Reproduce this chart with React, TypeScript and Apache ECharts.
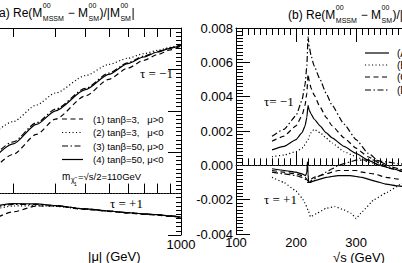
import React, { useEffect, useRef } from "react";
import * as echarts from "echarts";

// ---------- Panel (a): |mu| dependence ----------
const muValues = [150, 200, 250, 300, 400, 500, 600, 700, 800, 900, 1000];
const muTicks = [200, 300, 400, 500, 600, 700, 800, 900, 1000];
const muLabels = [1000];
// tau = -1
const a1Minus = [0.031, 0.095, 0.143, 0.18, 0.236, 0.276, 0.303, 0.322, 0.336, 0.347, 0.357];
const a2Minus = [0.122, 0.174, 0.214, 0.243, 0.285, 0.312, 0.327, 0.338, 0.346, 0.353, 0.359];
const a3Minus = [0.064, 0.125, 0.171, 0.204, 0.254, 0.291, 0.316, 0.332, 0.343, 0.352, 0.36];
const a4Minus = [0.059, 0.12, 0.167, 0.2, 0.251, 0.288, 0.314, 0.33, 0.342, 0.351, 0.359];
// tau = +1
const a1Plus = [-0.076, -0.044, -0.03, -0.03, -0.038, -0.043, -0.047, -0.05, -0.052, -0.055, -0.058];
const a2Plus = [-0.045, -0.03, -0.029, -0.031, -0.038, -0.042, -0.046, -0.049, -0.051, -0.054, -0.057];
const a3Plus = [-0.04, -0.026, -0.026, -0.029, -0.037, -0.042, -0.046, -0.049, -0.051, -0.054, -0.057];
const a4Plus = [-0.037, -0.024, -0.025, -0.029, -0.037, -0.042, -0.046, -0.049, -0.051, -0.054, -0.057];
const legendA = ["(1) tan\u03b2=3,   \u03bc>0", "(2) tan\u03b2=3,   \u03bc<0", "(3) tan\u03b2=50, \u03bc>0", "(4) tan\u03b2=50, \u03bc<0"];

// ---------- Panel (b): sqrt(s) dependence ----------
const sMinus = [160, 180, 200, 210, 215, 218, 220, 222, 225, 230, 240, 250, 260, 280, 300, 320, 340, 360, 380];
const bMinusA = [0.0009, 0.0011, 0.0015, 0.0019, 0.0023, 0.0028, 0.0035, 0.0032, 0.003, 0.0027, 0.0023, 0.0019, 0.0016, 0.0011, 0.0007, 0.0003, 0.0, -0.0002, -0.0004];
const bMinusB = [0.0005, 0.0006, 0.0008, 0.001, 0.0012, 0.0014, 0.0015, 0.0017, 0.0019, 0.0021, 0.0019, 0.0016, 0.0013, 0.0008, 0.0005, 0.0002, 0.0, -0.0002, -0.0003];
const bMinusC = [0.0014, 0.0017, 0.0023, 0.0029, 0.0035, 0.0042, 0.0053, 0.0049, 0.0045, 0.0041, 0.0034, 0.0028, 0.0023, 0.0016, 0.001, 0.0005, 0.0001, -0.0002, -0.0004];
const bMinusD = [0.0017, 0.0021, 0.0029, 0.0038, 0.0047, 0.0058, 0.0075, 0.0069, 0.0064, 0.0058, 0.005, 0.0042, 0.0035, 0.0024, 0.0015, 0.0007, 0.0002, -0.0001, -0.0003];
const sPlusA = [160, 180, 200, 210, 216, 218, 219, 220, 221, 223, 230, 250, 270, 290, 310, 330, 350, 370, 390];
const bPlusA = [-0.0002, -0.0003, -0.0004, -0.0005, -0.0006, -0.0004, 0.0002, -0.0005, -0.001, -0.001, -0.0009, -0.0007, -0.0006, -0.0006, -0.0007, -0.0009, -0.0011, -0.0012, -0.0013];
const sPlusB = [160, 180, 200, 210, 215, 220, 224, 235, 250, 265, 280, 292, 300, 310, 330, 350, 375, 390];
const bPlusB = [-0.0007, -0.001, -0.0015, -0.0019, -0.0022, -0.0026, -0.003, -0.0028, -0.0025, -0.0024, -0.0026, -0.0028, -0.0031, -0.0027, -0.002, -0.0016, -0.0011, -0.0008];
const sPlusCD = [160, 180, 200, 210, 215, 220, 222, 225, 230, 240, 250, 260, 270, 280, 290, 300, 310, 330, 350, 370, 390];
const bPlusC = [-0.0003, -0.0004, -0.0005, -0.0006, -0.0007, -0.0009, -0.0009, -0.0008, -0.0007, -0.0006, -0.0005, -0.0004, -0.0003, -0.0003, -0.0003, -0.0003, -0.0004, -0.0005, -0.0007, -0.0008, -0.0009];
const bPlusD = [-0.0004, -0.0005, -0.0006, -0.0007, -0.0008, -0.001, -0.001, -0.0009, -0.0008, -0.0006, -0.0004, -0.0002, 0.0, 0.0001, 0.0002, 0.0003, 0.0003, 0.0003, 0.0002, 0.0001, 0.0];
const legendB = ["(A)", "(B)", "(C)", "(D)"];

const SANS = '"Liberation Sans", Arial, Helvetica, sans-serif';
const SERIF = '"Liberation Serif", "Times New Roman", serif';
const DASH = [5, 3.5];
const DOT = [1.1, 2.4];
const DASHDOT = [6, 2.5, 1.5, 2.5];
const legendStyles: any[] = [DASH, DOT, DASHDOT, "solid"];
const legendStylesB: any[] = ["solid", DOT, DASH, DASHDOT];

// the canvas is wider than the page: both panels are cut at the page edges
const OFF = 70;
const CANVAS_W = 560;

let ctx: CanvasRenderingContext2D | null = null;
function measure(text: string, size: number, family: string) {
  if (!ctx) ctx = document.createElement("canvas").getContext("2d");
  ctx!.font = `${size}px ${family}`;
  return ctx!.measureText(text).width;
}

type Seg = { t: string } | { sup: string; sub: string };
function mathText(segs: Seg[], x: number, y: number, size: number, small: number, family: string) {
  const els: any[] = [];
  let cx = x;
  for (const s of segs) {
    if ("t" in s) {
      els.push({ type: "text", x: cx, y, style: { text: s.t, fontSize: size, fontFamily: family, fill: "#000", align: "left", verticalAlign: "middle" } });
      cx += measure(s.t, size, family);
    } else {
      els.push({ type: "text", x: cx + 0.5, y: y - size * 0.6, style: { text: s.sup, fontSize: small, fontFamily: family, fill: "#000", align: "left", verticalAlign: "middle" } });
      els.push({ type: "text", x: cx + 0.5, y: y + size * 0.42, style: { text: s.sub, fontSize: small, fontFamily: family, fill: "#000", align: "left", verticalAlign: "middle" } });
      cx += Math.max(measure(s.sup, small, family), measure(s.sub, small, family)) + 1;
    }
  }
  return els;
}

function titleSegs(letter: string): Seg[] {
  return [
    { t: `(${letter}) Re(M` },
    { sup: "00", sub: "MSSM" },
    { t: " \u2212 M" },
    { sup: "00", sub: "SM" },
    { t: ")/|M" },
    { sup: "00", sub: "SM" },
    { t: "|" },
  ];
}

const pairs = (xs: number[], ys: number[]) => xs.map((x, i) => [x, ys[i]]);

function line(name: string, xs: number[], ys: number[], dash: any, xi: number, yi: number, extra: any = {}) {
  return {
    type: "line",
    name,
    xAxisIndex: xi,
    yAxisIndex: yi,
    data: pairs(xs, ys),
    showSymbol: false,
    symbol: "none",
    smooth: 0.25,
    smoothMonotone: "x",
    clip: true,
    lineStyle: { color: "#000", width: 1.2, type: dash },
    ...extra,
  };
}

const zeroLine = {
  silent: true,
  symbol: "none",
  label: { show: false },
  lineStyle: { type: [1, 2], color: "#444", width: 0.8 },
  data: [{ yAxis: 0 }],
};

const txt = (x: number, y: number, text: string, size: number, family: string) => ({
  type: "text",
  x: x + OFF,
  y,
  style: { text, fontSize: size, fontFamily: family, fill: "#000", verticalAlign: "middle" },
});

export default function App() {
  const ref = useRef<HTMLDivElement>(null);
  useEffect(() => {
    if (!ref.current) return;
    const chart = echarts.init(ref.current, null, { renderer: "svg" });

    const muAxisBase = {
      type: "log",
      gridIndex: 0,
      min: 100,
      max: 1000,
      logBase: 10,
      axisLine: { show: true, lineStyle: { color: "#000", width: 1 } },
      splitLine: { show: false },
      minorTick: { show: false },
    };
    const sAxisBase = {
      type: "value",
      gridIndex: 1,
      min: 100,
      max: 500,
      interval: 100,
      axisLine: { show: true, lineStyle: { color: "#000", width: 1 } },
      splitLine: { show: false },
      axisTick: { show: true, inside: true, length: 14, lineStyle: { color: "#000" } },
      minorTick: { show: true, splitNumber: 10, length: 7, lineStyle: { color: "#000" } },
    };

    const legendGraphics: any[] = [];
    const rowsA = [119, 132.5, 146, 159.5];
    legendA.forEach((t, i) => {
      legendGraphics.push({ type: "line", shape: { x1: 62 + OFF, y1: rowsA[i], x2: 83 + OFF, y2: rowsA[i] }, style: { stroke: "#000", lineWidth: 1.2, lineDash: legendStyles[i] === "solid" ? null : legendStyles[i] } });
      legendGraphics.push(txt(93, rowsA[i], t, 9.5, SANS));
    });
    const rowsB = [53, 65, 77, 90];
    legendB.forEach((t, i) => {
      legendGraphics.push({ type: "line", shape: { x1: 365 + OFF, y1: rowsB[i], x2: 389 + OFF, y2: rowsB[i] }, style: { stroke: "#000", lineWidth: 1.2, lineDash: legendStylesB[i] === "solid" ? null : legendStylesB[i] } });
      legendGraphics.push(txt(397, rowsB[i], t, 10, SANS));
    });

    const mText = [
      txt(62, 176, "m", 10, SANS),
      txt(71, 179, "\u03c7\u0303", 7, SANS),
      txt(74, 184, "1", 5, SANS),
      txt(78, 176, "=\u221as/2=110GeV", 9.5, SANS),
    ];

    const option: any = {
      animation: false,
      textStyle: { fontFamily: SANS },
      grid: [
        { left: -59 + OFF, width: 240, top: 28, bottom: 28, containLabel: false },
        { left: 236 + OFF, width: 242, top: 28, bottom: 29, containLabel: false },
      ],
      xAxis: [
        {
          ...muAxisBase,
          position: "bottom",
          axisTick: { show: true, inside: true, length: 10, customValues: muTicks, lineStyle: { color: "#000" } },
          axisLabel: { show: true, customValues: muLabels, color: "#000", fontSize: 13, fontFamily: SANS, margin: 3, formatter: (v: number) => String(Math.round(v)) },
        },
        {
          ...muAxisBase,
          position: "top",
          axisTick: { show: true, inside: true, length: 9, customValues: muTicks, lineStyle: { color: "#000" } },
          axisLabel: { show: false },
        },
        {
          ...sAxisBase,
          position: "bottom",
          axisLabel: { show: true, color: "#000", fontSize: 13, fontFamily: SANS, margin: 2 },
        },
        {
          ...sAxisBase,
          position: "top",
          axisLabel: { show: false },
        },
      ],
      yAxis: [
        {
          type: "value",
          gridIndex: 0,
          position: "right",
          min: -0.1,
          max: 0.4,
          interval: 0.1,
          axisLine: { show: true, lineStyle: { color: "#000", width: 1 } },
          axisTick: { show: true, inside: true, length: 13, lineStyle: { color: "#000" } },
          minorTick: { show: true, splitNumber: 10, length: 5, lineStyle: { color: "#000" } },
          axisLabel: { show: false },
          splitLine: { show: false },
        },
        {
          type: "value",
          gridIndex: 1,
          position: "left",
          min: -0.004,
          max: 0.008,
          interval: 0.002,
          axisLine: { show: true, lineStyle: { color: "#000", width: 1 } },
          axisTick: { show: true, inside: true, length: 14, lineStyle: { color: "#000" } },
          minorTick: { show: true, splitNumber: 10, length: 7, lineStyle: { color: "#000" } },
          axisLabel: { show: true, color: "#000", fontSize: 13, fontFamily: SANS, margin: 3, formatter: (v: number) => v.toFixed(3) },
          splitLine: { show: false },
        },
      ],
      series: [
        line("(1) tau=-1", muValues, a1Minus, DASH, 0, 0, { markLine: zeroLine }),
        line("(2) tau=-1", muValues, a2Minus, DOT, 0, 0),
        line("(3) tau=-1", muValues, a3Minus, DASHDOT, 0, 0),
        line("(4) tau=-1", muValues, a4Minus, "solid", 0, 0),
        line("(1) tau=+1", muValues, a1Plus, DASH, 0, 0),
        line("(2) tau=+1", muValues, a2Plus, DOT, 0, 0),
        line("(3) tau=+1", muValues, a3Plus, DASHDOT, 0, 0),
        line("(4) tau=+1", muValues, a4Plus, "solid", 0, 0),
        line("(A) tau=-1", sMinus, bMinusA, "solid", 2, 1, { markLine: zeroLine, smooth: 0.15 }),
        line("(B) tau=-1", sMinus, bMinusB, DOT, 2, 1, { smooth: 0.15 }),
        line("(C) tau=-1", sMinus, bMinusC, DASH, 2, 1, { smooth: 0.15 }),
        line("(D) tau=-1", sMinus, bMinusD, DASHDOT, 2, 1, { smooth: 0.15 }),
        line("(A) tau=+1", sPlusA, bPlusA, "solid", 2, 1, { smooth: 0.1 }),
        line("(B) tau=+1", sPlusB, bPlusB, DOT, 2, 1, { smooth: 0.1 }),
        line("(C) tau=+1", sPlusCD, bPlusC, DASH, 2, 1, { smooth: 0.15 }),
        line("(D) tau=+1", sPlusCD, bPlusD, DASHDOT, 2, 1, { smooth: 0.15 }),
      ],
      graphic: [
        ...mathText(titleSegs("a"), -5 + OFF, 13, 12, 7, SANS),
        ...mathText(titleSegs("b"), 288 + OFF, 15, 12, 7, SANS),
        ...legendGraphics,
        ...mText,
        txt(140, 73, "\u03c4 = \u22121", 13, SERIF),
        txt(110, 203, "\u03c4 = +1", 13, SERIF),
        txt(264, 101, "\u03c4= \u22121", 13, SERIF),
        txt(264, 199, "\u03c4 = +1", 13, SERIF),
        txt(88, 256, "|\u03bc| (GeV)", 13, SANS),
        txt(333, 257, "\u221as (GeV)", 13, SANS),
      ],
    };
    chart.setOption(option);
    return () => chart.dispose();
  }, []);
  return <div ref={ref} style={{ position: "fixed", left: -OFF, top: 0, width: CANVAS_W, height: 263, background: "#fff" }} />;
}
